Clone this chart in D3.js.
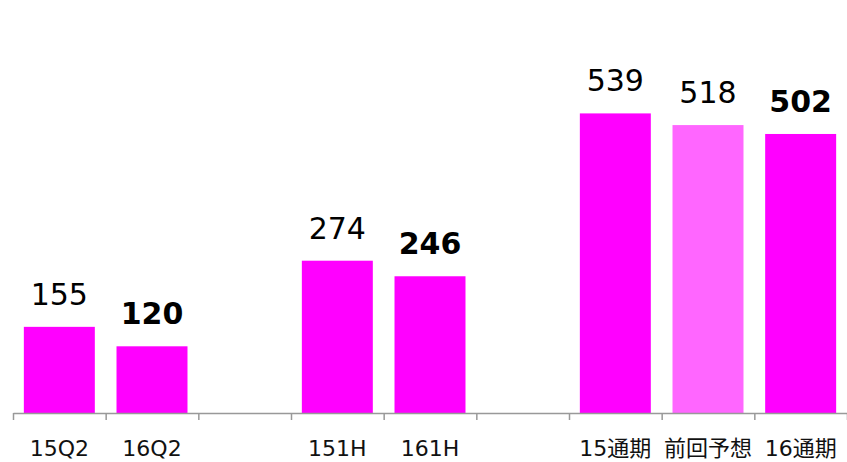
<!DOCTYPE html>
<html>
<head>
<meta charset="utf-8">
<script src="https://cdn.jsdelivr.net/npm/d3@7"></script>
<style>
  html, body { margin: 0; padding: 0; background: #fff; }
  svg { display: block; }
</style>
</head>
<body>
<svg id="chart" width="847" height="462"></svg>
<script>
// Data
const categories = ["15Q2", "16Q2", "", "151H", "161H", "", "15通期", "前回予想", "16通期"];
const values     = [155, 120, null, 274, 246, null, 539, 518, 502];
const boldFlags  = [false, true, false, false, true, false, false, false, true];
const barKinds   = ["actual", "actual", null, "actual", "actual", null, "actual", "forecast", "actual"];

const W = 847, H = 462;
const axisY = 413, x0 = 13, x1 = 847;
const svg = d3.select("#chart");

const idx = d3.range(categories.length);
const x = d3.scaleBand().domain(idx).range([x0, x1]).paddingInner(0.234).paddingOuter(0.117);
const xb = d3.scaleLinear().domain([0, categories.length]).range([x0, x1]);
const y = d3.scaleLinear().domain([0, 600]).range([axisY, 79.5]);
const color = d3.scaleOrdinal().domain(["actual", "forecast"]).range(["#FF00FF", "#FF66FF"]);

const data = idx.filter(i => values[i] != null).map(i => ({ i, v: values[i], bold: boldFlags[i], kind: barKinds[i] }));

svg.append("g").selectAll("rect").data(data).join("rect")
  .attr("x", d => x(d.i))
  .attr("width", x.bandwidth())
  .attr("y", d => y(d.v))
  .attr("height", d => y(0) - y(d.v))
  .attr("fill", d => color(d.kind));

svg.append("g").selectAll("text").data(data).join("text")
  .attr("x", d => x(d.i) + x.bandwidth() / 2)
  .attr("y", d => y(d.v) - 22)
  .attr("text-anchor", "middle")
  .attr("font-family", "'DejaVu Sans', Verdana, sans-serif")
  .attr("font-size", 30)
  .attr("font-weight", d => d.bold ? "bold" : "normal")
  .attr("fill", "#000")
  .text(d => d.v);

// Axis with ticks at band boundaries
const axis = d3.axisBottom(xb).tickValues(d3.range(categories.length + 1)).tickFormat("").tickSize(7).tickSizeOuter(0);
const ag = svg.append("g").attr("transform", `translate(0,${axisY})`).call(axis);
ag.select(".domain").attr("stroke", "#999").attr("stroke-width", 1.5);
ag.selectAll(".tick line").attr("stroke", "#999").attr("stroke-width", 1.5);

// Category labels
svg.append("g").selectAll("text").data(idx.filter(i => categories[i] !== "")).join("text")
  .attr("x", i => x(i) + x.bandwidth() / 2)
  .attr("y", 456)
  .attr("text-anchor", "middle")
  .attr("font-family", "'DejaVu Sans', Verdana, 'Noto Sans CJK JP', sans-serif")
  .attr("font-size", 22)
  .attr("fill", "#111")
  .text(i => categories[i]);
</script>
</body>
</html>
